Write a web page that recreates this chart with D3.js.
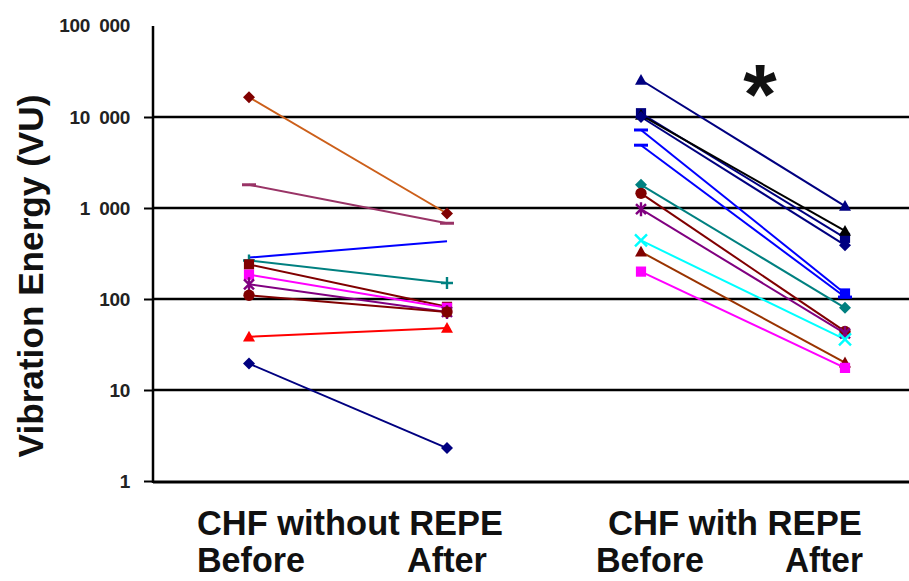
<!DOCTYPE html>
<html><head><meta charset="utf-8">
<script src="https://cdn.jsdelivr.net/npm/d3@7"></script>
<style>body{margin:0;background:#fff}svg{display:block}</style>
</head><body><svg id="c" width="909" height="581"></svg>
<script>
// ---- data ----
const groupNames = ["CHF without REPE", "CHF with REPE"];
const phaseNames = ["Before", "After"];
const yTickValues = [1, 10, 100, 1000, 10000, 100000];
const yTickLabels = ["1", "10", "100", "1\u2002000", "10\u2002000", "100\u2002000"];
// CHF without REPE
const noRepeBefore = [16500, 1800, 285, 265, 240, 185, 145, 110, 38.5, 19.5];
const noRepeAfter  = [870, 680, 430, 150, 82, 80, 72, 72, 48, 2.3];
const noRepeLine   = ["#cc5f1a", "#993366", "#0000ff", "#008080", "#800000", "#ff00ff", "#800080", "#800000", "#ff0000", "#000080"];
const noRepeMark   = ["#800000", "#993366", "#0000ff", "#008080", "#800000", "#ff00ff", "#800080", "#800000", "#ff0000", "#000080"];
const noRepeShapeB = ["diamond", "dash", "none", "plus", "square", "square", "star", "circle", "triangle", "diamond"];
const noRepeShapeA = ["diamond", "dash", "none", "plus", "square", "square", "star", "circle", "triangle", "diamond"];
// CHF with REPE
const repeBefore = [25500, 11000, 10500, 10000, 7200, 4900, 1800, 1450, 970, 440, 330, 200];
const repeAfter  = [1050, 470, 560, 390, 115, 105, 80, 44, 42, 36, 20, 17.5];
const repeLine   = ["#000080", "#000080", "#000000", "#000080", "#0000ff", "#0000ff", "#008080", "#800000", "#800080", "#00ffff", "#993300", "#ff00ff"];
const repeMark   = ["#000080", "#000080", "#000000", "#000080", "#0000ff", "#0000ff", "#008080", "#800000", "#800080", "#00ffff", "#800000", "#ff00ff"];
const repeShapeB = ["triangle", "square", "triangle", "diamond", "dash", "dash", "diamond", "circle", "star", "x", "triangle", "square"];
const repeShapeA = ["triangle", "square", "triangle", "diamond", "square", "dash", "diamond", "circle", "star", "x", "triangle", "square"];

// ---- layout ----
const svg = d3.select("#c");
const W = 909;
const axisX = 153, yTop = 26, yBot = 481;
const y = d3.scaleLog().domain([1, 100000]).range([yBot, yTop]);
const x = d3.scaleLinear().domain([0, 1, 2, 3]).range([249, 447, 641, 845]);

// gridlines
svg.append("g").selectAll("line").data(yTickValues.filter(v => v > 1 && v < 100000)).join("line")
  .attr("x1", axisX).attr("x2", W).attr("y1", d => y(d)).attr("y2", d => y(d))
  .attr("stroke", "#000").attr("stroke-width", 2.5);
// x axis line
svg.append("line").attr("x1", axisX).attr("x2", W).attr("y1", yBot + 1).attr("y2", yBot + 1)
  .attr("stroke", "#000").attr("stroke-width", 3);

// y axis
const tickFont = "'Liberation Sans',Arial,sans-serif";
const yAxis = d3.axisLeft(y).tickValues(yTickValues.slice(0, 5))
  .tickFormat((d, i) => yTickLabels[i]).tickSize(9).tickPadding(14);
const ga = svg.append("g").attr("transform", `translate(${axisX},0)`).call(yAxis);
ga.select(".domain").attr("d", `M0,${yTop}V${yBot + 2}`).attr("stroke", "#000").attr("stroke-width", 2.5);
ga.selectAll(".tick line").attr("stroke", "#000").attr("stroke-width", 2);
ga.selectAll(".tick text").attr("font-family", tickFont)
  .attr("font-size", 19).attr("font-weight", "bold").attr("fill", "#222").attr("letter-spacing", "-0.3");
svg.append("text").attr("x", axisX - 23).attr("y", y(100000)).attr("dy", "0.32em")
  .attr("text-anchor", "end").attr("font-family", tickFont).attr("letter-spacing", "-0.3")
  .attr("font-size", 19).attr("font-weight", "bold").attr("fill", "#222").text(yTickLabels[5]);

// y title
const yt = svg.append("text").attr("text-anchor", "middle").attr("font-family", "'Liberation Sans',Arial,sans-serif")
  .attr("font-size", 35).attr("font-weight", "bold").attr("fill", "#111").text("Vibration Energy (VU)");
{
  const len = yt.node().getComputedTextLength();
  yt.attr("transform", `translate(43,276) rotate(-90) scale(${363 / len},1)`);
}

// symbol helper
function symPath(shape, s) {
  const h = s / 2;
  switch (shape) {
    case "diamond": return `M0,${-h}L${h},0L0,${h}L${-h},0Z`;
    case "square": return `M${-h*0.85},${-h*0.85}H${h*0.85}V${h*0.85}H${-h*0.85}Z`;
    case "triangle": return `M0,${-h}L${h},${h*0.8}L${-h},${h*0.8}Z`;
    case "circle": return d3.symbol(d3.symbolCircle, s * s * 0.7)();
    default: return null;
  }
}
function drawMarker(g, shape, cx, cy, col) {
  const s = 12;
  const p = symPath(shape, s);
  if (p) {
    g.append("path").attr("d", p).attr("transform", `translate(${cx},${cy})`).attr("fill", col);
  } else if (shape === "dash") {
    g.append("line").attr("x1", cx - 7).attr("x2", cx + 7).attr("y1", cy).attr("y2", cy)
      .attr("stroke", col).attr("stroke-width", 3);
  } else if (shape === "plus") {
    g.append("path").attr("d", `M${cx-6},${cy}H${cx+6}M${cx},${cy-6}V${cy+6}`)
      .attr("stroke", col).attr("stroke-width", 2.4);
  } else if (shape === "x") {
    g.append("path").attr("d", `M${cx-6},${cy-6}L${cx+6},${cy+6}M${cx+6},${cy-6}L${cx-6},${cy+6}`)
      .attr("stroke", col).attr("stroke-width", 2.4);
  } else if (shape === "star") {
    g.append("path").attr("d", `M${cx-5},${cy-5}L${cx+5},${cy+5}M${cx+5},${cy-5}L${cx-5},${cy+5}M${cx},${cy-7}V${cy+7}`)
      .attr("stroke", col).attr("stroke-width", 2.4);
  }
}

function drawGroup(before, after, lineCols, markCols, shapesB, shapesA, xi) {
  const g = svg.append("g");
  before.forEach((b, i) => {
    g.append("line").attr("x1", x(xi)).attr("y1", y(b)).attr("x2", x(xi + 1)).attr("y2", y(after[i]))
      .attr("stroke", lineCols[i]).attr("stroke-width", 2);
  });
  before.forEach((b, i) => {
    drawMarker(g, shapesB[i], x(xi), y(b), markCols[i]);
    drawMarker(g, shapesA[i], x(xi + 1), y(after[i]), markCols[i]);
  });
}
drawGroup(noRepeBefore, noRepeAfter, noRepeLine, noRepeMark, noRepeShapeB, noRepeShapeA, 0);
drawGroup(repeBefore, repeAfter, repeLine, repeMark, repeShapeB, repeShapeA, 2);

// asterisk
svg.append("text").attr("x", 760).attr("y", 124).attr("text-anchor", "middle")
  .attr("font-family", "'Liberation Sans',Arial,sans-serif").attr("font-size", 86).attr("font-weight", "bold")
  .attr("fill", "#111").text("*");

// category labels (condensed bold)
function lbl(t, xs, ys, width) {
  const el = svg.append("text").attr("font-family", "'Liberation Sans',Arial,sans-serif")
    .attr("font-size", 35).attr("font-weight", "bold").attr("fill", "#111").text(t);
  const len = el.node().getComputedTextLength();
  el.attr("transform", `translate(${xs},${ys}) scale(${width / len},1)`);
}
lbl(groupNames[0], 197, 535, 306);
lbl(groupNames[1], 608, 535, 254);
lbl(phaseNames[0], 197, 572, 108);
lbl(phaseNames[1], 407, 572, 80);
lbl(phaseNames[0], 596, 572, 108);
lbl(phaseNames[1], 785, 572, 78);
</script></body></html>
